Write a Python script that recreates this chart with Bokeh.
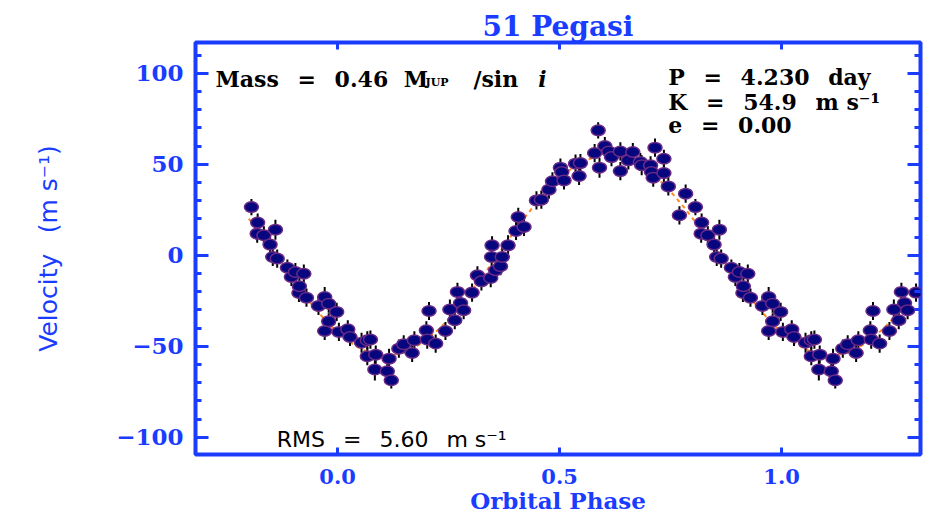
import numpy as np
from bokeh.plotting import figure
from bokeh.models import (Range1d, LinearAxis, FixedTicker, SingleIntervalTicker, Label,
                          NumeralTickFormatter, CustomJSTickFormatter)
from bokeh.embed import file_html
from bokeh.resources import INLINE

# Radial velocity measurements of 51 Peg, folded on the orbital period
phase = [-0.194, -0.181, -0.180, -0.166, -0.152, -0.146, -0.140, -0.136, -0.113, -0.104,
         -0.095, -0.087, -0.086, -0.076, -0.070, -0.043, -0.029, -0.029, -0.020, -0.020,
         -0.002, 0.003, 0.023, 0.028, 0.054, 0.067, 0.067, 0.074, 0.084, 0.086,
         0.112, 0.116, 0.121, 0.138, 0.149, 0.168, 0.173, 0.200, 0.202, 0.206,
         0.221, 0.243, 0.253, 0.264, 0.270, 0.277, 0.284, 0.303, 0.315, 0.324,
         0.345, 0.347, 0.348, 0.356, 0.367, 0.371, 0.384, 0.402, 0.407, 0.420,
         0.448, 0.459, 0.476, 0.484, 0.502, 0.505, 0.510, 0.536, 0.544, 0.547,
         0.579, 0.587, 0.590, 0.602, 0.611, 0.617, 0.637, 0.637, 0.655, 0.665,
         0.682, 0.685, 0.705, 0.707, 0.711, 0.715, 0.735, 0.735, 0.745, 0.770,
         0.784]
velocity = [26.5, 11.9, 18.0, 11.0, 5.9, -0.9, 14.1, -1.8, -6.8, -11.9,
            -9.2, -20.7, -17.0, -10.1, -23.3, -27.8, -22.9, -41.6, -26.6, -36.3,
            -31.1, -42.1, -40.7, -44.9, -48.0, -46.7, -55.5, -46.3, -62.8, -54.6,
            -63.7, -56.8, -68.7, -51.3, -48.9, -53.7, -46.7, -41.2, -46.3, -30.6,
            -48.5, -41.6, -29.8, -35.7, -20.1, -26.2, -30.2, -20.5, -11.0, -14.3,
            -12.5, -0.9, 5.5, -8.2, -6.0, -0.9, 5.5, 13.4, 21.1, 15.6,
            30.2, 30.6, 36.1, 40.7, 48.2, 45.8, 41.2, 50.4, 43.6, 50.7,
            56.2, 68.7, 48.2, 60.1, 57.1, 54.0, 57.1, 46.3, 52.2, 56.8,
            51.3, 49.5, 49.5, 45.8, 42.7, 59.2, 53.1, 45.2, 37.9, 22.0,
            33.9]
error = [4.5, 5.0, 5.0, 5.0, 5.5, 5.0, 5.5, 5.0, 4.5, 5.0,
         5.0, 5.0, 5.5, 5.0, 5.0, 5.0, 5.5, 5.0, 5.0, 4.5,
         5.0, 5.0, 5.0, 5.0, 5.5, 5.0, 5.0, 5.0, 6.0, 5.0,
         5.0, 5.5, 4.5, 5.0, 5.0, 5.0, 5.0, 5.0, 5.0, 5.0,
         5.0, 5.0, 5.5, 5.0, 5.0, 5.0, 5.0, 5.0, 5.0, 5.0,
         5.0, 5.0, 5.0, 5.0, 5.0, 5.0, 5.5, 5.0, 5.0, 5.0,
         5.0, 5.0, 5.0, 5.0, 5.0, 5.0, 5.0, 5.0, 5.0, 5.0,
         5.0, 4.5, 5.5, 5.0, 5.0, 5.0, 5.0, 5.0, 5.0, 5.0,
         5.0, 5.5, 5.0, 5.0, 5.0, 5.0, 5.0, 5.0, 5.0, 5.0,
         5.0]

# Orbit solution
period_days = 4.230
semi_amplitude = 54.9      # K, m/s
eccentricity = 0.00
peak_phase = 0.61          # phase of maximum velocity
rms_scatter = 5.60
mass_jup = 0.46

x_ticks = [0.0, 0.5, 1.0]
y_tick_labels = {100: "100", 50: "50", 0: "0", -50: "\u221250", -100: "\u2212100"}

BLUE = "#1a3cff"
SERIF = "DejaVu Serif"
GAP = "\u2002 "            # wide word gap that SVG does not collapse

ph = np.array(phase)
vel = np.array(velocity)
err = np.array(error)

# show the first part of the cycle again one period later
wrap = ph < 0.31
x_pts = np.concatenate([ph, ph[wrap] + 1.0])
y_pts = np.concatenate([vel, vel[wrap]])
e_pts = np.concatenate([err, err[wrap]])

# circular-orbit model curve
x_fit = np.linspace(-0.2, 1.3, 600)
y_fit = semi_amplitude * np.cos(2 * np.pi * (x_fit - peak_phase))

p = figure(width=928, height=520, output_backend="svg", toolbar_location=None,
           x_range=Range1d(-0.32, 1.313), y_range=Range1d(-109.5, 117.0),
           min_border_left=195, min_border_right=8, min_border_top=42, min_border_bottom=66,
           background_fill_color="white", border_fill_color="white")

p.xgrid.visible = False
p.ygrid.visible = False
p.outline_line_color = BLUE
p.outline_line_width = 4
p.outline_line_alpha = 1.0

# title
p.title.text = "51 Pegasi"
p.title.align = "center"
p.title.text_color = BLUE
p.title.text_font = SERIF
p.title.text_font_size = "28px"
p.title.text_font_style = "bold"
p.title.offset = 0
p.title.standoff = 0

# bottom axis
xa = p.xaxis[0]
xa.ticker = FixedTicker(ticks=x_ticks, minor_ticks=[])
xa.formatter = NumeralTickFormatter(format="0.0")
xa.axis_line_color = None
xa.major_tick_in = 7
xa.major_tick_out = 0
xa.major_tick_line_color = BLUE
xa.major_tick_line_width = 3
xa.minor_tick_line_color = None
xa.major_label_text_color = BLUE
xa.major_label_text_font = SERIF
xa.major_label_text_font_size = "21px"
xa.major_label_text_font_style = "bold"
xa.major_label_standoff = 14
xa.axis_label = "Orbital Phase"
xa.axis_label_text_color = BLUE
xa.axis_label_text_font = SERIF
xa.axis_label_text_font_size = "23px"
xa.axis_label_text_font_style = "bold"
xa.axis_label_standoff = 0

# left axis
ya = p.yaxis[0]
ya.ticker = SingleIntervalTicker(interval=50, num_minor_ticks=5)
ya.major_label_overrides = y_tick_labels
ya.axis_line_color = None
ya.major_tick_in = 13
ya.major_tick_out = 0
ya.minor_tick_in = 6
ya.minor_tick_out = 0
ya.major_tick_line_color = BLUE
ya.minor_tick_line_color = BLUE
ya.major_tick_line_width = 3
ya.minor_tick_line_width = 3
ya.major_label_text_color = BLUE
ya.major_label_text_font = SERIF
ya.major_label_text_font_size = "23px"
ya.major_label_text_font_style = "bold"
ya.major_label_standoff = 12
ya.axis_label = "Velocity\u2002 (m s\u207b\u00b9)"
ya.axis_label_text_color = BLUE
ya.axis_label_text_font = "DejaVu Sans"
ya.axis_label_text_font_size = "25px"
ya.axis_label_text_font_style = "normal"
ya.axis_label_standoff = 50

# tick marks on the top and right edges of the box (no labels there)
blank = CustomJSTickFormatter(code="return ''")
top = LinearAxis(ticker=FixedTicker(ticks=x_ticks, minor_ticks=[]), formatter=blank,
                 axis_line_color=None, major_tick_in=7, major_tick_out=0,
                 major_tick_line_color=BLUE, major_tick_line_width=3,
                 minor_tick_line_color=None, major_label_standoff=0)
p.add_layout(top, "above")
right = LinearAxis(ticker=SingleIntervalTicker(interval=50, num_minor_ticks=5), formatter=blank,
                   axis_line_color=None, major_tick_in=13, major_tick_out=0,
                   minor_tick_in=6, minor_tick_out=0,
                   major_tick_line_color=BLUE, minor_tick_line_color=BLUE,
                   major_tick_line_width=3, minor_tick_line_width=3,
                   major_label_standoff=0)
p.add_layout(right, "right")

# model curve, error bars, measurements
p.line(x_fit, y_fit, line_color="#ff8a1e", line_width=2, line_dash="4 4")
p.segment(x0=x_pts, y0=y_pts - e_pts, x1=x_pts, y1=y_pts + e_pts,
          line_color="black", line_width=2)
p.ellipse(x=x_pts, y=y_pts, width=14, height=10.5,
          width_units="screen", height_units="screen",
          fill_color="#06067e", line_color="#6a2a86", line_width=1.5)

def note(x, y, text, size="22px", style="bold", font=SERIF, color="black"):
    p.add_layout(Label(x=x, y=y, text=text, text_font=font, text_font_size=size,
                       text_font_style=style, text_color=color,
                       text_baseline="alphabetic", text_align="left"))

note(-0.275, 96.7, f"Mass{GAP}={GAP}{mass_jup:.2f}")
note(0.149, 96.7, "M")
note(0.198, 95.0, "JUP", size="11px")
note(0.306, 96.7, "/sin")
note(0.452, 96.7, "i", style="bold italic")

note(0.745, 97.8, f"P{GAP}={GAP}{period_days:.3f}{GAP}day")
note(0.745, 84.1, f"K{GAP}={GAP}{semi_amplitude:.1f}{GAP}m s\u207b\u00b9")
note(0.745, 71.4, f"e{GAP}={GAP}{eccentricity:.2f}")

note(-0.137, -101.5, f"RMS{GAP}={GAP}{rms_scatter:.2f}{GAP}m s\u207b\u00b9",
     size="22px", style="normal", font="DejaVu Sans")

open("out.html", "w").write(file_html(p, INLINE))
